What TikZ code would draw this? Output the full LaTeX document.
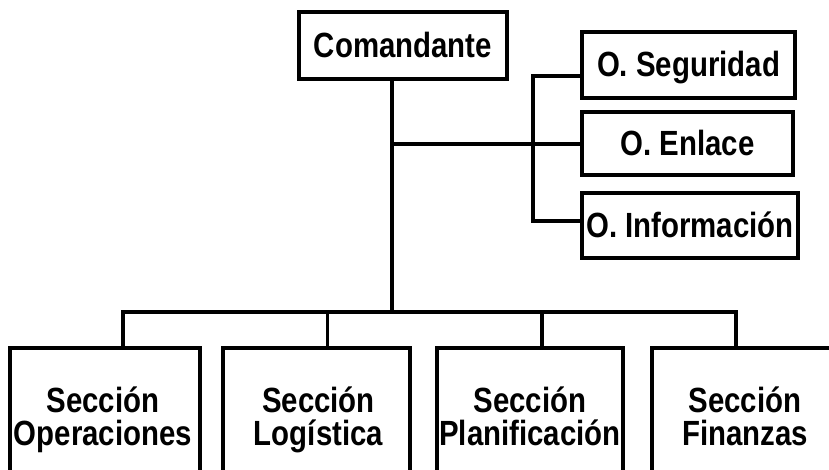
\documentclass[tikz,border=0pt]{standalone}
\usepackage{fontspec}
\setmainfont{Liberation Sans}[FakeStretch=0.84]
\begin{document}
\begin{tikzpicture}[x=1pt,y=-1pt,
  box/.style={draw,line width=3.2pt,inner sep=0pt,
    font=\bfseries\fontsize{35}{33}\selectfont,text height=24pt,text depth=0pt},
  secbox/.style={draw,line width=3.2pt,inner sep=0pt,minimum height=132pt},
  lbl/.style={font=\bfseries\fontsize{35}{33}\selectfont,align=center,inner sep=0pt,anchor=base},
  conn/.style={line width=3.2pt}]
\useasboundingbox (0,0) rectangle (829,470);
\fill[white] (0,0) rectangle (829,470);
\clip (0,0) rectangle (829,470);
% top boxes
\node[box,minimum width=208pt,minimum height=67pt] (com) at (403,45.5) {Comandante};
\node[box,minimum width=213pt,minimum height=66pt] (seg) at (688.5,65) {O. Seguridad};
\node[box,minimum width=211pt,minimum height=63pt] (enl) at (687.5,143.5) {O. Enlace};
\node[box,minimum width=216pt,minimum height=65pt] (inf) at (690,225.5) {O. Información};
% bottom boxes
\node[secbox,minimum width=190pt] (sec1) at (105,414) {};
\node[secbox,minimum width=187pt] (sec2) at (316.5,414) {};
\node[secbox,minimum width=186pt] (sec3) at (530,414) {};
\node[secbox,minimum width=190pt] (sec4) at (747,414) {};
\node[lbl] (t1) at (103,445) {Sección\\Operaciones};
\node[lbl] (t2) at (318.5,445) {Sección\\Logística};
\node[lbl] (t3) at (530,445) {Sección\\Planificación};
\node[lbl] (t4) at (745,445) {Sección\\Finanzas};
% connector points
\coordinate (bus) at (392,312);
\coordinate (mid) at (392,144);
\coordinate (b1) at (533,76);
\coordinate (b3) at (533,221);
\draw[conn] (com.south -| bus) -- (bus);
\draw[conn] ([xshift=18pt]sec1.north) |- (bus) -| ([xshift=-11pt]sec4.north);
\draw[conn] ([xshift=11pt]sec2.north) -- ([xshift=11pt]sec2.north |- bus);
\draw[conn] ([xshift=12pt]sec3.north) -- ([xshift=12pt]sec3.north |- bus);
\draw[conn] (mid) -- (mid -| enl.west);
\draw[conn] (b1 -| seg.west) -- (b1) -- (b3) -- (b3 -| inf.west);
\end{tikzpicture}
\end{document}
